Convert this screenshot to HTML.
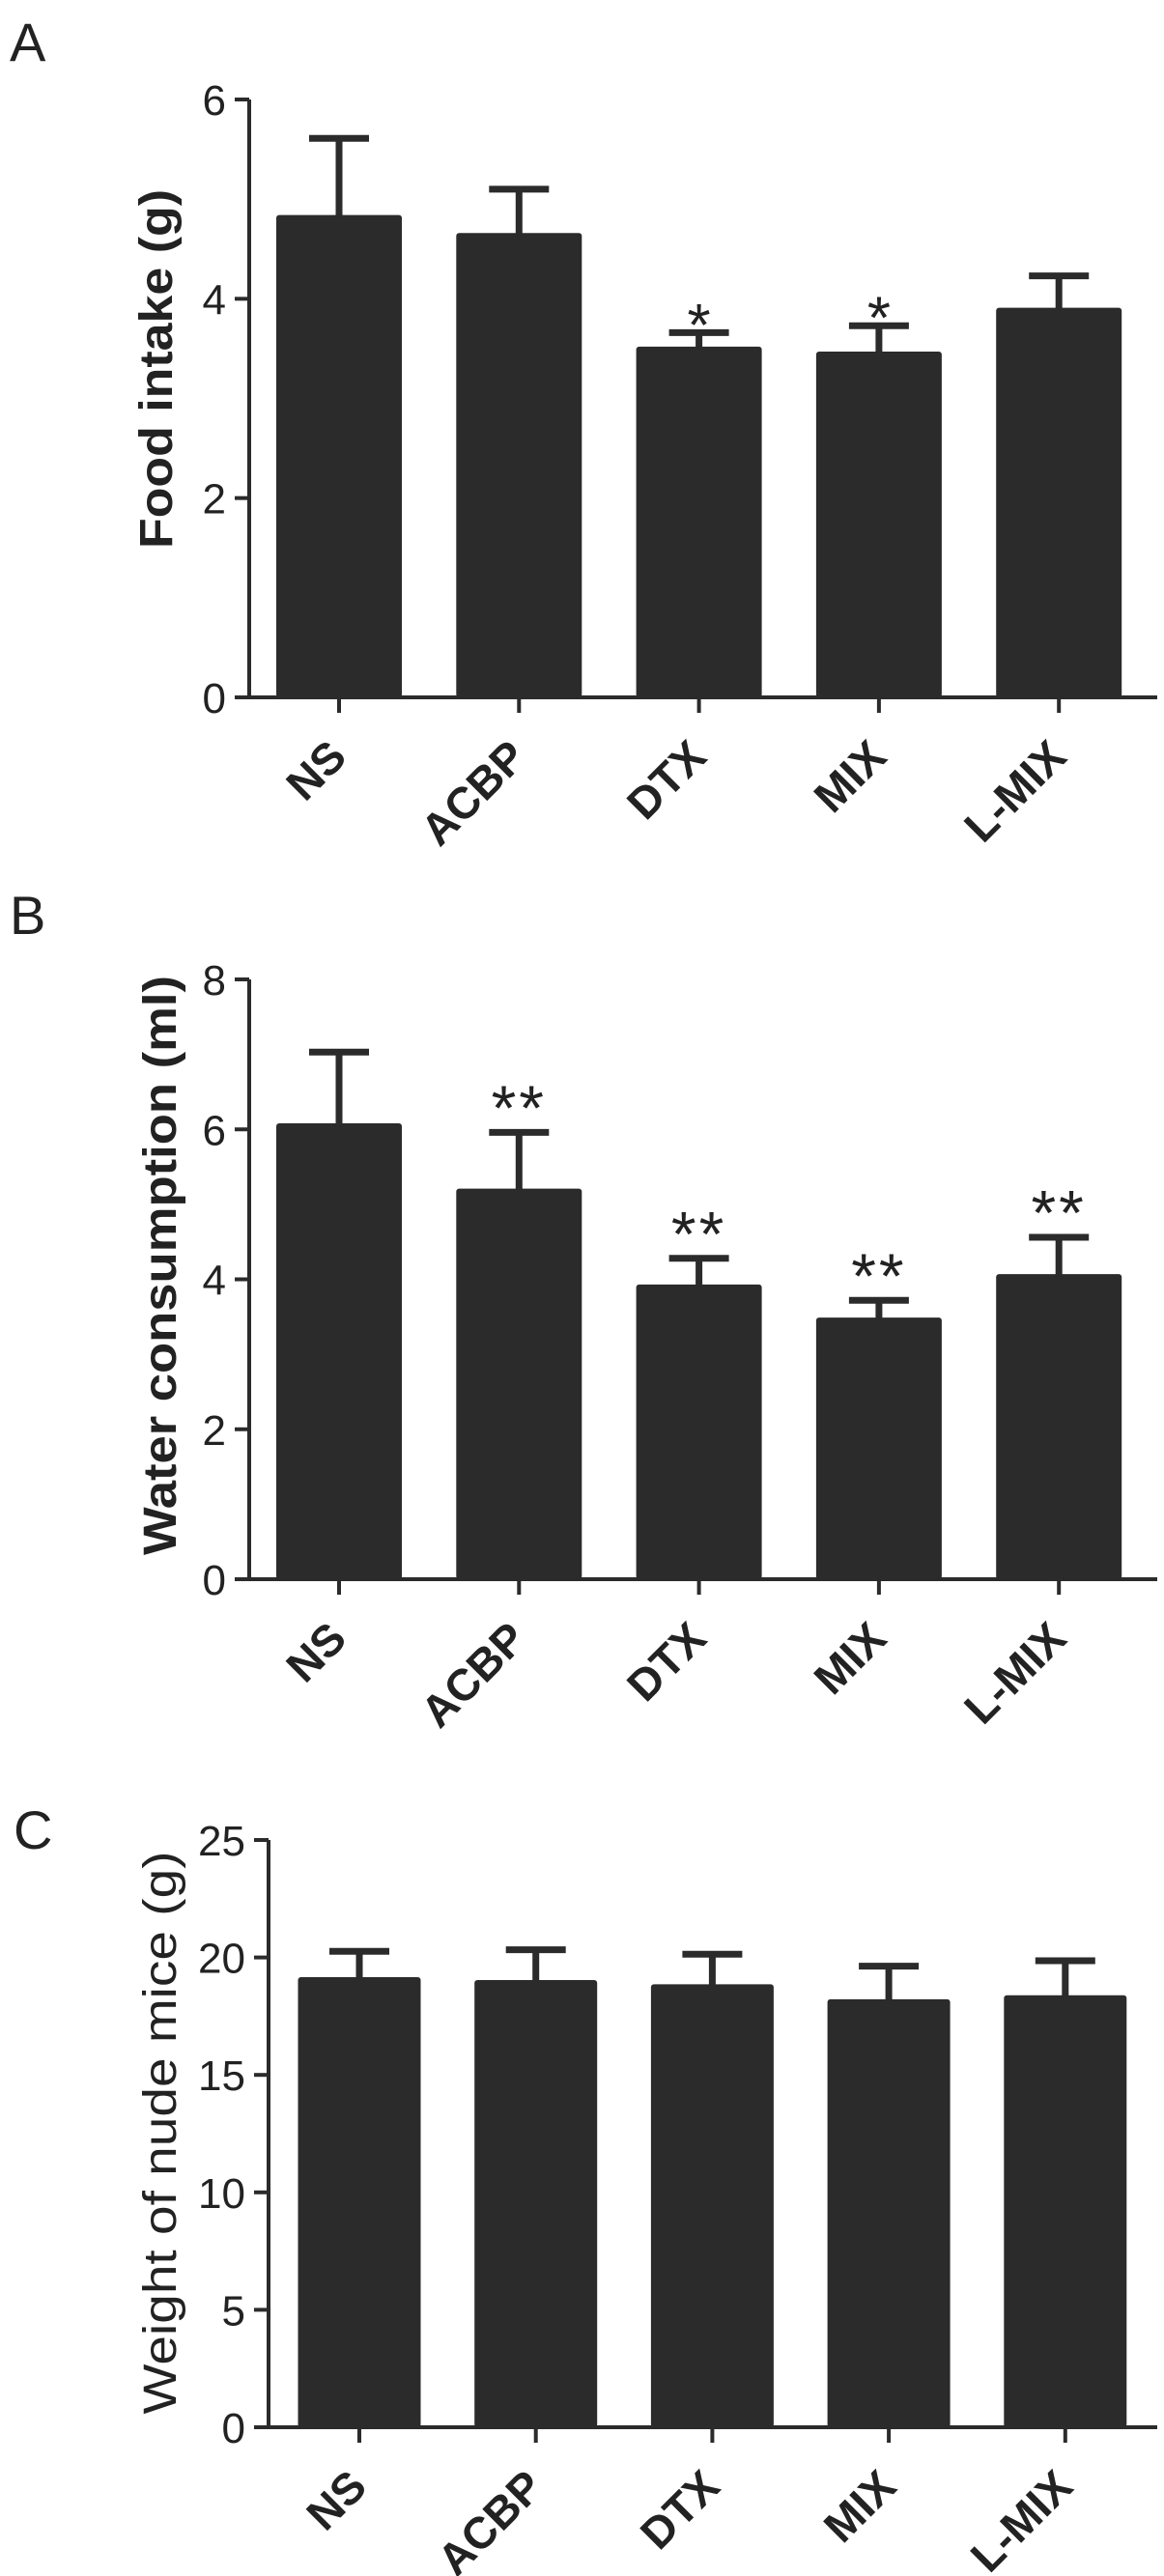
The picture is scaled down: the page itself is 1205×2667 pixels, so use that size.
<!DOCTYPE html>
<html><head><meta charset="utf-8"><style>
html,body{margin:0;padding:0;background:#fff;}
svg{display:block;}
text{font-family:"Liberation Sans",Arial,sans-serif;fill:#222;}
</style></head><body>
<svg id="fig" width="1205" height="2667" viewBox="0 0 1205 2667" xmlns="http://www.w3.org/2000/svg"></svg>
<script>
const categories = ["NS","ACBP","DTX","MIX","L-MIX"];
const foodMeans = [4.84,4.66,3.52,3.47,3.91];
const foodErr = [5.61,5.10,3.66,3.73,4.23];
const foodStars = ["","","*","*",""];
const foodTicks = [0,2,4,6];
const waterMeans = [6.08,5.21,3.93,3.49,4.07];
const waterErr = [7.03,5.96,4.28,3.72,4.56];
const waterStars = ["","**","**","**","**"];
const waterTicks = [0,2,4,6,8];
const weightMeans = [19.16,19.04,18.86,18.22,18.39];
const weightErr = [20.26,20.33,20.14,19.63,19.86];
const weightStars = ["","","","",""];
const weightTicks = [0,5,10,15,20,25];

const NS="http://www.w3.org/2000/svg";
const svg=document.getElementById('fig');
function el(tag,attrs,parent){const e=document.createElementNS(NS,tag);for(const k in attrs)e.setAttribute(k,attrs[k]);(parent||svg).appendChild(e);return e;}

function panel(cfg){
  const g=el('g',{});
  
  
  const ymax=cfg.ticks[cfg.ticks.length-1];
  const ys=v=>cfg.y0-(cfg.y0-cfg.yTop)*v/ymax;
  const xs=i=>cfg.x0+i*cfg.step;
  const L=el('text',{x:cfg.letterX,y:cfg.letterY,'font-size':56},g);
  L.textContent=cfg.letter;
  
  
  categories.forEach((c,i)=>{
    const cx=xs(i);
    const top=ys(cfg.means[i]);
    const b=el('rect',{x:cx-cfg.bw/2,y:top,width:cfg.bw,height:cfg.y0-top,fill:'#2b2b2b',rx:3},g);
    
    
    const et=ys(cfg.err[i]);
    const e=el('path',{d:`M${cx},${top+2}V${et}M${cx-31},${et}H${cx+31}`,stroke:'#2b2b2b','stroke-width':7,fill:'none'},g);
    
    
    if(cfg.stars[i]){
      const s=el('text',{x:cx,y:et-cfg.starOff+cfg.starSize*0.57,'text-anchor':'middle','font-size':cfg.starSize,'letter-spacing':cfg.starSpace},g);
      s.textContent=cfg.stars[i];
      
      
    }
    el('line',{x1:cx,y1:cfg.y0,x2:cx,y2:cfg.y0+16,stroke:'#2b2b2b','stroke-width':4},g);
    const t=el('text',{x:cx+10,y:cfg.y0+64,'text-anchor':'end','font-size':46,'font-weight':'bold',transform:`rotate(-45 ${cx+10} ${cfg.y0+64})`},g);
    t.textContent=c;
    
    
  });
  const ya=el('line',{x1:cfg.ax,y1:cfg.yTop,x2:cfg.ax,y2:cfg.y0,stroke:'#2b2b2b','stroke-width':4},g);
  
  
  const xa=el('line',{x1:cfg.ax-15,y1:cfg.y0,x2:1198,y2:cfg.y0,stroke:'#2b2b2b','stroke-width':4},g);
  
  
  cfg.ticks.forEach(v=>{
    const y=ys(v);
    el('line',{x1:cfg.ax-15,y1:y,x2:cfg.ax,y2:y,stroke:'#2b2b2b','stroke-width':4},g);
    const t=el('text',{x:cfg.ax-24,y:y+16,'text-anchor':'end','font-size':44},g);
    t.textContent=v;
    
    
  });
  const yt=el('text',{x:cfg.titleX,y:cfg.titleY,'text-anchor':'middle','font-size':48,'font-weight':cfg.titleWeight,textLength:cfg.titleLen,lengthAdjust:'spacingAndGlyphs',transform:`rotate(-90 ${cfg.titleX} ${cfg.titleY})`},g);
  yt.textContent=cfg.title;
  
  
}

panel({name:'panel-a-food-intake',letter:'A',letterX:10,letterY:63,means:foodMeans,err:foodErr,stars:foodStars,ticks:foodTicks,
  y0:722,yTop:103,ax:258,x0:351,step:186.3,bw:130,starOff:22,starSize:62,starSpace:0,
  title:'Food intake (g)',titleX:178,titleY:382,titleLen:372,titleWeight:'bold'});
panel({name:'panel-b-water-consumption',letter:'B',letterX:10,letterY:967,means:waterMeans,err:waterErr,stars:waterStars,ticks:waterTicks,
  y0:1635,yTop:1014,ax:258,x0:351,step:186.3,bw:130,starOff:40,starSize:66,starSpace:3,
  title:'Water consumption (ml)',titleX:182,titleY:1310,titleLen:600,titleWeight:'bold'});
panel({name:'panel-c-body-weight',letter:'C',letterX:14,letterY:1914,means:weightMeans,err:weightErr,stars:weightStars,ticks:weightTicks,
  y0:2513,yTop:1905,ax:278,x0:372,step:182.7,bw:127,starOff:30,starSize:60,starSpace:0,
  title:'Weight of nude mice  (g)',titleX:182,titleY:2208,titleLen:583,titleWeight:'normal'});
</script>
</body></html>
